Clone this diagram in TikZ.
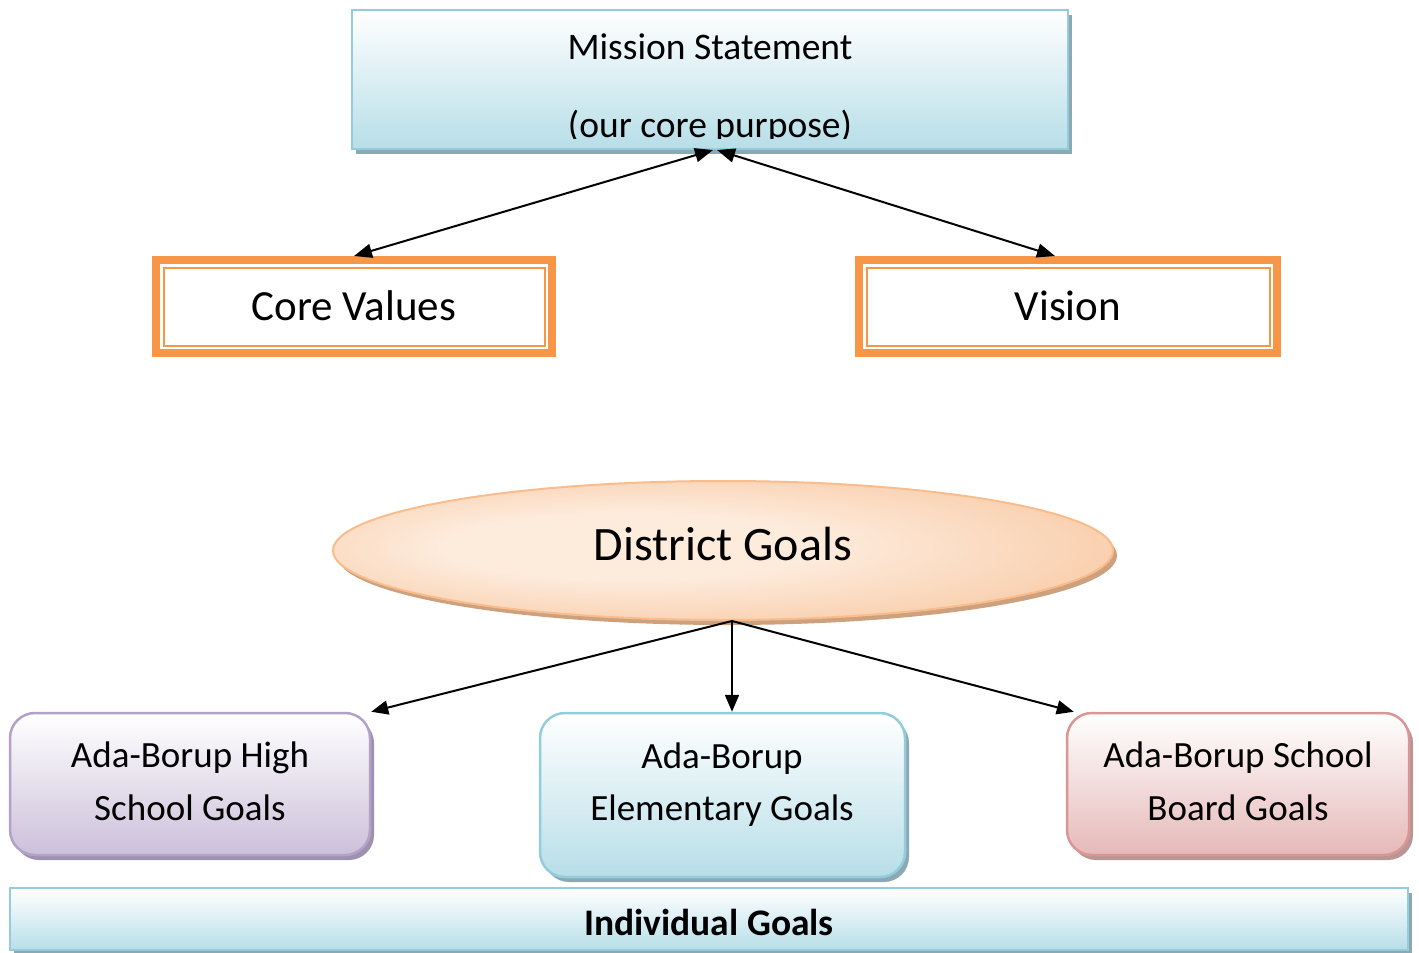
\documentclass[tikz,border=0pt]{standalone}
\usepackage{fontspec}
\setmainfont{Carlito}
\usetikzlibrary{shadows,arrows.meta,shapes.geometric}

% palette
\definecolor{bluebot}{HTML}{B7DEE8}
\definecolor{blueline}{HTML}{93CDDD}
\definecolor{blueshadow}{HTML}{8CA9B3}
\definecolor{purplebot}{HTML}{CCC0DA}
\definecolor{purpleline}{HTML}{B3A2C7}
\definecolor{purpleshadow}{HTML}{9E91B0}
\definecolor{redbot}{HTML}{E6B9B8}
\definecolor{redline}{HTML}{D99694}
\definecolor{redshadow}{HTML}{B89695}
\definecolor{frame}{HTML}{F79646}
\definecolor{peachin}{HTML}{FDEBDC}
\definecolor{peachout}{HTML}{F5AE76}
\definecolor{peachline}{HTML}{F9BC8C}
\definecolor{peachshadow}{HTML}{CDA07E}

% soft glow for the ellipse, brightest a little left of centre
\pgfdeclareradialshading{peachglow}{\pgfpoint{-8bp}{2bp}}{%
  color(0bp)=(peachin); color(12bp)=(peachin); color(50bp)=(peachout)}

\begin{document}
\begin{tikzpicture}[x=1pt,y=-1pt,
  softshadow/.style={drop shadow={shadow xshift=4pt,shadow yshift=-5pt,fill=#1,opacity=1}},
  panel/.style={rectangle, inner sep=0pt, line width=2pt, draw=blueline,
    top color=white, bottom color=bluebot, softshadow=blueshadow},
  roundpanel/.style 2 args={rectangle, rounded corners=25pt, inner sep=0pt, line width=2.5pt,
    draw=#1, top color=white, bottom color=#2},
  framebox/.style={rectangle, inner sep=0pt, draw=frame, line width=8pt, fill=white},
  innerframe/.style={draw=frame, line width=2pt},
  label/.style={anchor=base, inner sep=0pt, font=\fontsize{37}{44}\selectfont},
  conn/.style={line width=2pt, draw=black},
  tip/.style={-{Triangle[length=17pt,width=14pt]}},
  tips/.style={{Triangle[length=18pt,width=14pt]}-{Triangle[length=18pt,width=14pt]}},
]
\useasboundingbox (0,0) rectangle (1419,953);

% top: mission statement, its second line cut off just below the baseline
\node[panel, minimum width=716pt, minimum height=139pt] (ms) at (710,79.5) {};
\begin{scope}
  \clip (ms.north west) rectangle ([yshift=12pt]ms.south east);
  \node[label, font=\fontsize{37.5}{44}\selectfont] (mst) at (710,59) {Mission Statement};
  \node[label, font=\fontsize{37.5}{44}\selectfont] (mpp) at (710,137) {(our core purpose)};
\end{scope}

% core values and vision, thick-thin orange frames
\node[framebox, minimum width=396pt, minimum height=93pt] (cv) at (354,306.5) {};
\draw[innerframe] ([shift={(11.5pt,-11.5pt)}]cv.north west) rectangle ([shift={(-11.5pt,11.5pt)}]cv.south east);
\node[label, font=\fontsize{43}{50}\selectfont] (cvt) at (354,320) {Core Values};

\node[framebox, minimum width=418pt, minimum height=93pt] (vs) at (1068,306.5) {};
\draw[innerframe] ([shift={(11.5pt,-11.5pt)}]vs.north west) rectangle ([shift={(-11.5pt,11.5pt)}]vs.south east);
\node[label, font=\fontsize{43}{50}\selectfont] (vst) at (1068,320) {Vision};

\draw[conn, tips] ([xshift=3pt]ms.south) -- (cv.north);
\draw[conn, tips] ([xshift=7pt]ms.south) -- ([xshift=-13pt]vs.north);

% district goals
\node[ellipse, inner sep=0pt, minimum width=780pt, minimum height=139pt,
      draw=peachline, line width=2pt, shading=peachglow,
      softshadow=peachshadow] (dg) at (723,550.5) {};
\node[label, font=\fontsize{48}{56}\selectfont] (dgt) at (723,560) {District Goals};
\coordinate (fork) at ([xshift=9pt]dg.south);

% school level goals
\node[roundpanel={purpleline}{purplebot}, softshadow=purpleshadow,
      minimum width=360pt, minimum height=142pt] (hs) at (190,784) {};
\node[label] (hs1) at (190,767) {Ada-Borup High};
\node[label] (hs2) at (190,820) {School Goals};

\node[roundpanel={blueline}{bluebot}, softshadow=blueshadow,
      minimum width=365pt, minimum height=164pt] (el) at (722.5,795) {};
\node[label] (el1) at (722,768) {Ada-Borup};
\node[label] (el2) at (722,820) {Elementary Goals};

\node[roundpanel={redline}{redbot}, softshadow=redshadow,
      minimum width=342pt, minimum height=142pt] (bd) at (1238,784) {};
\node[label] (bd1) at (1238,767) {Ada-Borup School};
\node[label] (bd2) at (1238,820) {Board Goals};

\draw[conn, tip] (fork) -- (hs.north east);
\draw[conn, tip] (fork) -- ([xshift=9.5pt]el.north);
\draw[conn, tip] (fork) -- ([xshift=8pt]bd.north west);

% individual goals bar
\node[panel, minimum width=1398pt, minimum height=62pt] (ig) at (709,919) {};
\node[label, font=\fontsize{37.5}{44}\bfseries\selectfont] (igt) at (709,935) {Individual Goals};
\end{tikzpicture}
\end{document}
